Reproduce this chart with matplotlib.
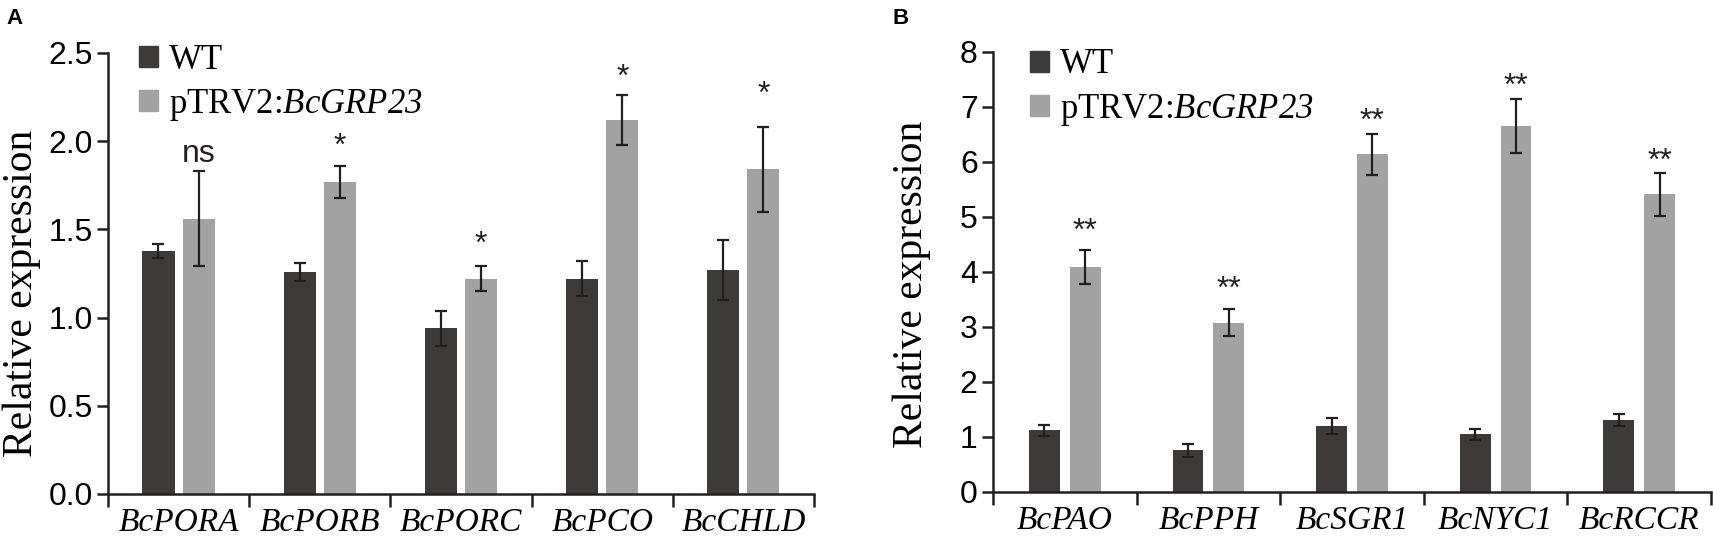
import matplotlib
matplotlib.use("Agg")
import matplotlib.pyplot as plt
from matplotlib.patches import Patch
import numpy as np

# italic digits in the legend: route \mathsf to the italic serif face
plt.rcParams['mathtext.fontset'] = 'custom'
plt.rcParams['mathtext.rm'] = 'Liberation Serif'
plt.rcParams['mathtext.it'] = 'Liberation Serif:italic'
plt.rcParams['mathtext.sf'] = 'Liberation Serif:italic'

# ---- panel A data ----
genes_a = ["BcPORA", "BcPORB", "BcPORC", "BcPCO", "BcCHLD"]
wt_a = [1.38, 1.26, 0.94, 1.22, 1.27]
wt_a_err = [0.04, 0.05, 0.10, 0.10, 0.17]
trv_a = [1.56, 1.77, 1.22, 2.12, 1.84]
trv_a_err = [0.27, 0.09, 0.07, 0.14, 0.24]
sig_a = ["ns", "*", "*", "*", "*"]
sig_a_y = [1.93, 1.97, 1.41, 2.36, 2.26]

# ---- panel B data ----
genes_b = ["BcPAO", "BcPPH", "BcSGR1", "BcNYC1", "BcRCCR"]
wt_b = [1.12, 0.76, 1.20, 1.05, 1.31]
wt_b_err = [0.10, 0.12, 0.14, 0.10, 0.11]
trv_b = [4.09, 3.08, 6.14, 6.65, 5.41]
trv_b_err = [0.31, 0.24, 0.37, 0.49, 0.39]
sig_b = ["**", "**", "**", "**", "**"]
sig_b_y = [4.73, 3.67, 6.72, 7.36, 6.00]

WT_COLOR = "#3d3a3a"
TRV_COLOR = "#a2a2a2"
INK = "#231f20"

fig = plt.figure(figsize=(17.13, 5.52), dpi=100)
ax_a = fig.add_axes([0.0630, 0.1051, 0.4122, 0.7989])
ax_b = fig.add_axes([0.5797, 0.1087, 0.4191, 0.7971])


def draw_panel(ax, genes, wt, wt_err, trv, trv_err, sig, sig_y, ymax, yticks,
               ylabels, width, label_xy, legend_xy):
    x = np.arange(len(genes)) + 0.5
    off = 0.142
    ax.bar(x - off, wt, width, color=WT_COLOR, label="WT")
    ax.bar(x + off, trv, width, color=TRV_COLOR, label="pTRV2")
    ax.errorbar(x - off, wt, yerr=wt_err, fmt="none", ecolor=INK,
                elinewidth=1.6, capsize=4, capthick=1.6)
    ax.errorbar(x + off, trv, yerr=trv_err, fmt="none", ecolor=INK,
                elinewidth=1.6, capsize=4, capthick=1.6)
    for xi, s, sy in zip(x + off, sig, sig_y):
        ax.text(xi, sy, s, ha="center", va="center", fontsize=23,
                family="Liberation Sans", color=INK)

    ax.set_xlim(0, len(genes))
    ax.set_ylim(0, ymax)
    ax.set_xticks(np.arange(len(genes) + 1))
    ax.set_xticklabels([])
    ax.set_xticks(x, minor=True)
    ax.set_xticklabels(genes, minor=True, family="Liberation Serif",
                       style="italic", fontsize=24)
    ax.tick_params(axis="x", which="minor", length=0, pad=10)
    ax.tick_params(axis="x", which="major", length=9, width=1.8,
                   direction="out", color=INK)
    ax.set_yticks(yticks)
    ax.set_yticklabels(ylabels, family="Liberation Sans", fontsize=23)
    ax.tick_params(axis="y", length=8, width=1.8, color=INK, pad=3)
    for side in ("top", "right"):
        ax.spines[side].set_visible(False)
    for side in ("left", "bottom"):
        ax.spines[side].set_linewidth(1.8)
        ax.spines[side].set_color(INK)
    ax.set_ylabel("Relative expression", family="Liberation Serif", fontsize=30)
    ax.yaxis.set_label_coords(*label_xy)

    handles = [Patch(color=WT_COLOR), Patch(color=TRV_COLOR)]
    ax.legend(handles, ["WT", r"pTRV2:$\mathsf{BcGRP23}$"], loc="upper left",
              bbox_to_anchor=legend_xy, frameon=False,
              prop={"family": "Liberation Serif", "size": 25},
              handlelength=0.55, handleheight=0.55, handletextpad=0.3,
              labelspacing=0.3, borderpad=0, borderaxespad=0)


draw_panel(ax_a, genes_a, wt_a, wt_a_err, trv_a, trv_a_err, sig_a, sig_a_y,
           2.5, [0, 0.5, 1.0, 1.5, 2.0, 2.5],
           ["0.0", "0.5", "1.0", "1.5", "2.0", "2.5"], 0.227,
           (-0.095, 0.456), (0.044, 1.021))
draw_panel(ax_b, genes_b, wt_b, wt_b_err, trv_b, trv_b_err, sig_b, sig_b_y,
           8, list(range(9)), [str(i) for i in range(9)], 0.215,
           (-0.087, 0.473), (0.052, 1.008))

fig.text(0.004, 0.985, "A", fontsize=16, fontweight="bold",
         family="Liberation Sans", va="top")
fig.text(0.521, 0.985, "B", fontsize=16, fontweight="bold",
         family="Liberation Sans", va="top")

fig.savefig("out.png", dpi=100)
